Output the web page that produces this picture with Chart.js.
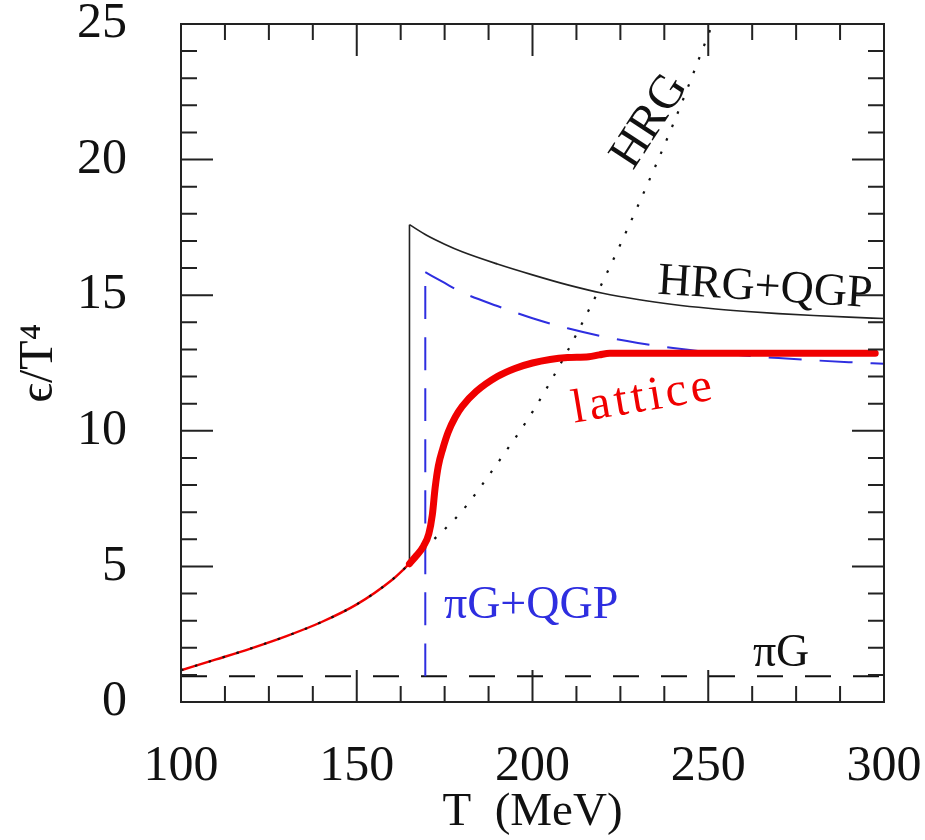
<!DOCTYPE html>
<html lang="en">
<head>
<meta charset="UTF-8">
<title>Energy density ϵ/T⁴ versus T</title>
<script src="https://cdn.jsdelivr.net/npm/chart.js"></script>
<style>
  html, body { margin: 0; padding: 0; background: #fff; }
  canvas { display: block; }
</style>
</head>
<body>
<canvas id="chart" width="925" height="840"></canvas>
<script>
// T in MeV, energy density in units of T^4
const hrgT = [100, 110, 120, 130, 140, 150, 160, 165, 170, 180, 190, 200, 210, 220, 230, 240, 250, 253];
const hrgE = [1.17, 1.57, 1.98, 2.43, 2.95, 3.6, 4.5, 5.1, 5.75, 7.05, 8.8, 10.7, 12.95, 15.5, 18.3, 21.3, 24.6, 25.6];

// hadron resonance gas + QGP (transition at tcHrg)
const tcHrg = 165;
const hrgQgpT = [165, 170, 175, 180, 190, 200, 210, 220, 230, 240, 250, 260, 270, 280, 290, 300];
const hrgQgpE = [17.6, 17.2, 16.88, 16.6, 16.15, 15.75, 15.38, 15.07, 14.84, 14.66, 14.52, 14.41, 14.32, 14.25, 14.19, 14.14];

// pion gas + QGP (transition at tcPi)
const tcPi = 169.5;
const piQgpT = [169.5, 175, 180, 190, 200, 210, 220, 230, 240, 250, 260, 270, 280, 290, 300];
const piQgpE = [15.85, 15.45, 15.1, 14.6, 14.15, 13.78, 13.48, 13.24, 13.05, 12.9, 12.78, 12.68, 12.6, 12.53, 12.47];

// pion gas
const piGT = [100, 300];
const piGE = [0.95, 0.95];

// lattice result above the transition
const latticeT = [165, 167, 169, 170.5, 171.5, 172.3, 173.2, 174.5, 176, 178, 180, 184, 190, 195, 200, 205, 210, 216, 219, 222, 297.5];
const latticeE = [5.1, 5.4, 5.75, 6.2, 6.9, 7.9, 8.7, 9.35, 9.95, 10.5, 10.9, 11.45, 12.0, 12.3, 12.5, 12.63, 12.7, 12.73, 12.8, 12.86, 12.86];

const xMajor = [100, 150, 200, 250, 300];
const yMajor = [0, 5, 10, 15, 20, 25];

const SERIF = '"Liberation Serif", "DejaVu Serif", serif';
const RED = '#f00000';
const BLUE = '#2e2ee0';

const pts = (xs, ys) => xs.map((x, i) => ({ x, y: ys[i] }));
const below = (xs, ys, t) => pts(xs, ys).filter(p => p.x <= t);

const labels = [
  { text: 'HRG', x: 233.4, y: 21.4, rot: -57, color: '#111', size: 48, align: 'center', base: 'middle' },
  { text: 'HRG+QGP', x: 235.4, y: 15.05, rot: 3.5, color: '#111', size: 46, align: 'left', base: 'alphabetic' },
  { text: 'lattice', x: 231.7, y: 11.2, rot: -9.5, color: RED, size: 48, align: 'center', base: 'middle', spacing: '4px' },
  { text: 'πG+QGP', x: 174.8, y: 3.08, rot: 0, color: BLUE, size: 46, align: 'left', base: 'alphabetic' },
  { text: 'πG', x: 262.7, y: 1.32, rot: 0, color: '#111', size: 46, align: 'left', base: 'alphabetic' }
];

// box with inward ticks on all four sides, plus curve labels
const frame = {
  id: 'frame',
  afterDraw(chart) {
    const { ctx, chartArea: a, scales: { x, y } } = chart;
    ctx.save();
    ctx.strokeStyle = '#222';
    ctx.lineWidth = 2;
    ctx.strokeRect(a.left, a.top, a.right - a.left, a.bottom - a.top);
    ctx.beginPath();
    for (let t = 100; t <= 300; t += 12.5) {
      const px = x.getPixelForValue(t);
      const len = xMajor.includes(t) ? 32 : 16;
      ctx.moveTo(px, a.bottom); ctx.lineTo(px, a.bottom - len);
      ctx.moveTo(px, a.top); ctx.lineTo(px, a.top + len);
    }
    for (let v = 0; v <= 25; v++) {
      const py = y.getPixelForValue(v);
      const len = yMajor.includes(v) ? 32 : 16;
      ctx.moveTo(a.left, py); ctx.lineTo(a.left + len, py);
      ctx.moveTo(a.right, py); ctx.lineTo(a.right - len, py);
    }
    ctx.stroke();

    labels.forEach(l => {
      ctx.save();
      ctx.translate(x.getPixelForValue(l.x), y.getPixelForValue(l.y));
      ctx.rotate(l.rot * Math.PI / 180);
      ctx.font = l.size + 'px ' + SERIF;
      ctx.fillStyle = l.color;
      ctx.textAlign = l.align;
      ctx.textBaseline = l.base;
      ctx.letterSpacing = l.spacing || '0px';
      ctx.fillText(l.text, 0, 0);
      ctx.restore();
    });
    ctx.restore();
  }
};

const line = (data, color, width, extra) => Object.assign({
  data, borderColor: color, borderWidth: width, showLine: true,
  pointRadius: 0, fill: false, cubicInterpolationMode: 'monotone'
}, extra);

new Chart(document.getElementById('chart'), {
  type: 'scatter',
  data: {
    datasets: [
      line(pts(latticeT, latticeE), RED, 7, { borderCapStyle: 'round', borderJoinStyle: 'round' }),
      line(pts(hrgT, hrgE), '#111', 2.2, { borderDash: [2.5, 12] }),
      line(below(hrgT, hrgE, tcHrg), RED, 2.4),
      line([{ x: tcHrg, y: 5.1 }, { x: tcHrg, y: hrgQgpE[0] }], '#222', 1.6),
      line(pts(hrgQgpT, hrgQgpE), '#222', 1.6),
      line([{ x: tcPi, y: piGE[0] }, { x: tcPi, y: piQgpE[0] }], BLUE, 2, { borderDash: [33, 18] }),
      line(pts(piQgpT, piQgpE), BLUE, 2, { borderDash: [33, 18] }),
      line(pts(piGT, piGE), '#111', 1.8, { borderDash: [26, 22] })
    ]
  },
  options: {
    responsive: false,
    animation: false,
    devicePixelRatio: 1,
    layout: { padding: { top: 24, right: 41, left: 0, bottom: 0 } },
    plugins: { legend: { display: false }, tooltip: { enabled: false } },
    scales: {
      x: {
        type: 'linear', min: 100, max: 300,
        grid: { display: false, drawTicks: false },
        border: { display: false },
        ticks: {
          stepSize: 50, maxRotation: 0, autoSkip: false, padding: 35,
          color: '#111', font: { family: SERIF, size: 50 }
        },
        title: {
          display: true, text: 'T  (MeV)', color: '#111',
          font: { family: SERIF, size: 47, lineHeight: 1.1 },
          padding: { top: 0, bottom: 1 }
        },
        afterFit: s => { s.height = 138; s.paddingLeft = 0; s.paddingRight = 0; }
      },
      y: {
        type: 'linear', min: 0, max: 25,
        grid: { display: false, drawTicks: false },
        border: { display: false },
        ticks: {
          stepSize: 5, padding: 54,
          color: '#111', font: { family: SERIF, size: 50 }
        },
        title: {
          display: true, text: 'ϵ/T⁴', color: '#111',
          font: { family: SERIF, size: 48, lineHeight: 1.1 },
          padding: { top: 13, bottom: 0 }
        },
        afterFit: s => { s.width = 181; s.paddingTop = 0; s.paddingBottom = 0; }
      }
    }
  },
  plugins: [frame]
});
</script>
</body>
</html>
